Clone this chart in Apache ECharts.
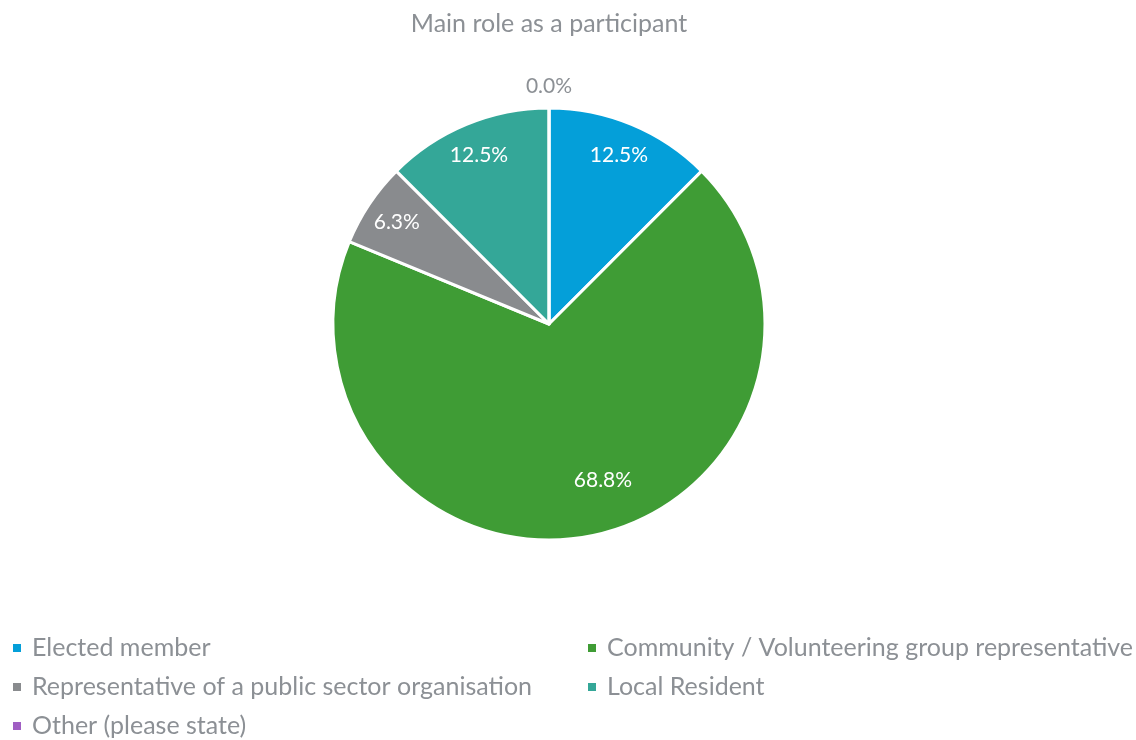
<!DOCTYPE html>
<html>
<head>
<meta charset="utf-8">
<style>
  html, body { margin: 0; padding: 0; background: #ffffff; }
  #chart { width: 1136px; height: 740px; }
</style>
<script src="https://cdn.jsdelivr.net/npm/echarts@6/dist/echarts.min.js"></script>
</head>
<body>
<div id="chart"></div>
<script>
// Survey responses: main role as a participant (percent of respondents)
const roles = [
  'Elected member',
  'Community / Volunteering group representative',
  'Representative of a public sector organisation',
  'Local Resident',
  'Other (please state)'
];
const shares = [12.5, 68.8, 6.3, 12.5, 0.0];
const roleColors = ['#049fd9', '#3f9c35', '#898b8e', '#34a798', '#a05ec3'];

const FONT = 'Lato, "Open Sans", sans-serif';
const GREY_TEXT = '#8c9095';
const PIE_CENTER = [549, 324];

const pieData = roles.map((name, i) => ({
  name,
  value: shares[i],
  itemStyle: { color: roleColors[i] }
}));

// Label ring: same slices, transparent, sized so "inside" labels sit near the rim
const labelData = roles.map((name, i) => {
  const item = { name, value: shares[i] };
  if (shares[i] === 0) {
    item.label = { color: GREY_TEXT, offset: [0, -55] };
  } else if (i === 1) {
    item.label = { offset: [18, -23] };
  }
  return item;
});

const legendText = { fontFamily: FONT, fontSize: 25, color: GREY_TEXT, lineHeight: 26, padding: [0, 0, 0, 5] };

const chart = echarts.init(document.getElementById('chart'), null, { renderer: 'canvas' });

chart.setOption({
  animation: false,
  title: {
    text: 'Main role as a participant',
    left: PIE_CENTER[0] - 5,
    textAlign: 'center',
    top: 6,
    textStyle: { fontFamily: FONT, fontSize: 25, fontWeight: 'normal', color: GREY_TEXT }
  },
  legend: [
    {
      data: [roles[0], roles[2], roles[4]],
      orient: 'vertical',
      left: 11,
      top: 635,
      padding: 0,
      icon: 'rect',
      itemWidth: 10,
      itemHeight: 10,
      itemGap: 13,
      selectedMode: false,
      textStyle: legendText
    },
    {
      data: [roles[1], roles[3]],
      orient: 'vertical',
      left: 586,
      top: 635,
      padding: 0,
      icon: 'rect',
      itemWidth: 10,
      itemHeight: 10,
      itemGap: 13,
      selectedMode: false,
      textStyle: legendText
    }
  ],
  series: [
    {
      name: 'Main role',
      type: 'pie',
      center: PIE_CENTER,
      radius: [0, 216],
      startAngle: 90,
      clockwise: true,
      avoidLabelOverlap: false,
      label: { show: false },
      labelLine: { show: false },
      itemStyle: { borderColor: '#ffffff', borderWidth: 3 },
      emphasis: { disabled: true },
      data: pieData
    },
    {
      name: 'Main role labels',
      type: 'pie',
      center: PIE_CENTER,
      radius: [144, 216],
      startAngle: 90,
      clockwise: true,
      silent: true,
      legendHoverLink: false,
      avoidLabelOverlap: false,
      itemStyle: { color: 'rgba(0,0,0,0)', borderWidth: 0 },
      label: {
        show: true,
        position: 'inside',
        fontFamily: FONT,
        fontSize: 21,
        color: '#ffffff',
        formatter: p => p.value.toFixed(1) + '%'
      },
      labelLine: { show: false },
      emphasis: { disabled: true },
      data: labelData
    }
  ]
});
</script>
</body>
</html>
